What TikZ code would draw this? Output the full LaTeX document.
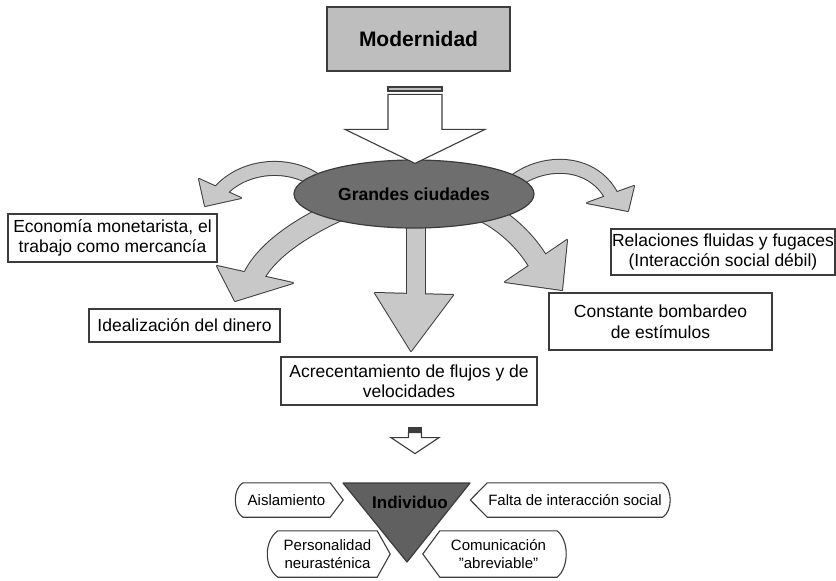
\documentclass[tikz,border=0pt]{standalone}
\usepackage{fontspec}
\setmainfont{Liberation Sans}
\usetikzlibrary{shapes.geometric,backgrounds}

\definecolor{edgegray}{HTML}{3C3C3C}
\definecolor{arrowgray}{HTML}{C8C8C8}
\definecolor{modgray}{HTML}{BEBEBE}
\definecolor{citygray}{HTML}{6E6E6E}
\definecolor{indgray}{HTML}{606060}

% curved block arrow: shaft width, shaft path, head polygon
\newcommand{\blockarrow}[3]{%
  \draw[line width=#1+2pt, edgegray] #2;
  \filldraw[edgegray, line width=2pt, line join=round] #3;
  \draw[line width=#1, arrowgray] #2;
  \fill[arrowgray] #3;
}

\begin{document}
\begin{tikzpicture}[
    x=1pt, y=-1pt,
    box/.style={rectangle, draw=edgegray, line width=1.2pt, fill=white, align=center, inner sep=1pt,
      font=\fontsize{17.5}{20.5}\selectfont},
    tag/.style={inner sep=0pt, align=center, font=\fontsize{15}{18.5}\selectfont},
    tagline/.style={draw=edgegray, line width=1.1pt, fill=white},
    hollow/.style={draw=edgegray, line width=1.1pt, fill=white, line join=miter},
  ]
  \useasboundingbox (0,0) rectangle (836,581);

  % Define nodes
  \node[box, fill=modgray, minimum width=183pt, minimum height=64pt, font=\fontsize{21}{24}\bfseries] (mod) at (418.5,39) {Modernidad};
  \node[ellipse, draw=edgegray, line width=1.2pt, fill=citygray, minimum width=240pt, minimum height=68pt,
    inner sep=0pt, font=\fontsize{17.5}{20}\bfseries] (city) at (414,194) {Grandes ciudades};

  \node[box, minimum width=209pt, minimum height=48pt] (econ) at (112.5,238) {Economía monetarista, el\\trabajo como mercancía};
  \node[box, minimum width=191pt, minimum height=33pt] (ideal) at (184.5,325.5) {Idealización del dinero};
  \node[box, minimum width=256pt, minimum height=48pt] (acre) at (409,381) {Acrecentamiento de flujos y de\\velocidades};
  \node[box, minimum width=223pt, minimum height=57pt] (const) at (660.5,321.5) {Constante bombardeo\\de estímulos};
  \node[box, minimum width=224pt, minimum height=46pt] (rel) at (723,252) {Relaciones fluidas y fugaces\\(Interacción social débil)};

  \node[font=\fontsize{17}{20}\bfseries, inner sep=0pt] (ind) at (410,502) {Individuo};
  \node[tag, minimum width=87pt, minimum height=34pt] (ais) at (286.5,500) {Aislamiento};
  \node[tag, minimum width=175pt, minimum height=34pt] (falta) at (575,500) {Falta de interacción social};
  \node[tag, minimum width=99pt, minimum height=46pt] (pers) at (327.5,554) {Personalidad\\neurasténica};
  \node[tag, minimum width=117pt, minimum height=46pt] (comu) at (498.5,554) {Comunicación\\"abreviable"};

  % Arrow tips
  \coordinate (tipA) at (205,206);
  \coordinate (tipB) at (235,301);
  \coordinate (tipC) at (411,351);
  \coordinate (tipD) at (562,290);
  \coordinate (tipE) at (628,211);
  \coordinate (bigtip) at ([shift={(1,4)}]city.north);
  \coordinate (smalltip) at ([shift={(6,48)}]acre.south);

  \begin{scope}[on background layer]
    % Draw curved arrows out of the city
    \blockarrow{13pt}{([shift={(-96,-12)}]city.center) .. controls (288,160) and (240,165) .. (217,195)}{(199,179) -- (tipA) -- (241,198) -- cycle}
    \blockarrow{13pt}{([shift={(100,-12)}]city.center) .. controls (545,158) and (595,160) .. (613,199)}{(634,186) -- (tipE) -- (587,203) -- cycle}
    \blockarrow{20pt}{([shift={(-70,14)}]city.center) .. controls (305,225) and (265,250) .. (252,280)}{(217,266) -- (tipB) -- (293,283) -- cycle}
    \blockarrow{18pt}{([shift={(2,20)}]city.center) -- (416,300)}{(375,293) -- (tipC) -- (453,295) -- cycle}
    \blockarrow{20pt}{([shift={(56,12)}]city.center) .. controls (500,215) and (528,242) .. (541,267)}{(567,240) -- (tipD) -- (505,282) -- cycle}

    % Draw individuo and its tags
    \filldraw[draw=edgegray, fill=indgray, line width=1.2pt, line join=round] (343,483) -- (470,483) -- (407,562) -- cycle;
    \draw[tagline] (ais.north east) -- (ais.north west) .. controls +(-10,6) and +(-10,-6) .. (ais.south west)
      -- (ais.south east) -- ([xshift=13pt]ais.east) -- cycle;
    \draw[tagline] (falta.north west) -- (falta.north east) .. controls +(10,6) and +(10,-6) .. (falta.south east)
      -- (falta.south west) -- ([xshift=-17pt]falta.west) -- cycle;
    \draw[tagline] (pers.north east) -- (pers.north west) .. controls +(-14,10) and +(-14,-10) .. (pers.south west)
      -- (pers.south east) -- ([xshift=13pt]pers.east) -- cycle;
    \draw[tagline] (comu.north west) -- (comu.north east) .. controls +(12,10) and +(12,-10) .. (comu.south east)
      -- (comu.south west) -- ([xshift=-17pt]comu.west) -- cycle;
  \end{scope}

  % Draw big arrows
  \draw[hollow, fill=modgray] (388,87) rectangle (442,91);
  \draw[hollow] (bigtip) -- ++(70,-34) -- ++(-43,0) -- ++(0,-35) -- ++(-54,0) -- ++(0,35) -- ++(-43,0) -- cycle;
  \draw[hollow, fill=edgegray] (408.5,428) rectangle (421.5,431);
  \draw[hollow] (smalltip) -- ++(24,-16) -- ++(-17.5,0) -- ++(0,-5) -- ++(-13,0) -- ++(0,5) -- ++(-17.5,0) -- cycle;

\end{tikzpicture}
\end{document}
